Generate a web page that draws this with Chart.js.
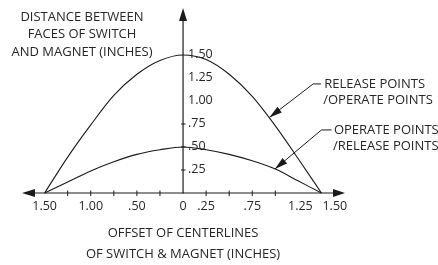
<!DOCTYPE html>
<html><head><meta charset="utf-8">
<script src="https://cdn.jsdelivr.net/npm/chart.js@4"></script>
<style>html,body{margin:0;padding:0;background:#fff;}canvas{display:block;}</style>
</head><body>
<canvas id="c" width="438" height="265"></canvas>
<script>
// ---- data ----
const offsets       = [-1.5, -1.25, -1, -0.75, -0.5, -0.25, 0, 0.25, 0.5, 0.75, 1, 1.25, 1.5];
const releaseCurve  = [0, 0.39, 0.74, 1.06, 1.29, 1.44, 1.50, 1.45, 1.29, 1.05, 0.73, 0.37, 0];
const operateCurve  = [0, 0.12, 0.24, 0.34, 0.42, 0.47, 0.50, 0.47, 0.42, 0.35, 0.26, 0.13, 0];

const xTickMarks  = [-1.25, -1, -0.75, -0.5, -0.25, 0.25, 0.5, 0.75, 1];
const xTickValues = [-1.5, -1, -0.5, 0, 0.25, 0.75, 1.25, 1.5];
const xTickLabels = ['1.50', '1.00', '.50', '0', '.25', '.75', '1.25', '1.50'];
const yTickMarks  = [0.25, 0.5, 0.75];
const yTickValues = [0.25, 0.5, 0.75, 1, 1.25, 1.5];
const yTickLabels = ['.25', '.50', '.75', '1.00', '1.25', '1.50'];

const yTitle = ['DISTANCE BETWEEN', 'FACES OF SWITCH', 'AND MAGNET (INCHES)'];
const xTitle = ['OFFSET OF CENTERLINES', 'OF SWITCH & MAGNET (INCHES)'];
const releaseLabel = ['RELEASE POINTS', '/OPERATE POINTS'];
const operateLabel = ['OPERATE POINTS', '/RELEASE POINTS'];

const INK = '#1a1a1a';
const TXT = '#262626';
const FONT = '13px "Open Sans", "Noto Sans", sans-serif';
const TICKFONT = '12.5px "Open Sans", "Noto Sans", sans-serif';

function pts(ys) { return offsets.map((x, i) => ({x, y: ys[i]})); }

function arrowHead(ctx, tx, ty, fx, fy, len, hw) {
  const a = Math.atan2(ty - fy, tx - fx);
  ctx.beginPath();
  ctx.moveTo(tx, ty);
  ctx.lineTo(tx - len * Math.cos(a) + hw * Math.sin(a), ty - len * Math.sin(a) - hw * Math.cos(a));
  ctx.lineTo(tx - len * Math.cos(a) - hw * Math.sin(a), ty - len * Math.sin(a) + hw * Math.cos(a));
  ctx.closePath();
  ctx.fill();
}

const decor = {
  id: 'decor',
  beforeDatasetsDraw(chart) {
    const {ctx, scales: {x, y}, chartArea: ca} = chart;
    const x0 = x.getPixelForValue(0), y0 = y.getPixelForValue(0);
    ctx.save();
    ctx.strokeStyle = INK; ctx.fillStyle = INK; ctx.lineWidth = 1.2;
    // x axis
    ctx.beginPath(); ctx.moveTo(ca.left + 4, y0); ctx.lineTo(ca.right - 4, y0); ctx.stroke();
    arrowHead(ctx, ca.left, y0, ca.left + 10, y0, 13, 4);
    arrowHead(ctx, ca.right, y0, ca.right - 10, y0, 12, 4);
    // y axis
    ctx.beginPath(); ctx.moveTo(x0, y0 + 0.5); ctx.lineTo(x0, ca.top + 4); ctx.stroke();
    arrowHead(ctx, x0, ca.top, x0, ca.top + 10, 13, 4);
    // tick marks
    ctx.lineWidth = 1;
    xTickMarks.forEach(v => { const p = x.getPixelForValue(v); ctx.beginPath(); ctx.moveTo(p, y0 - 2.5); ctx.lineTo(p, y0 + 3); ctx.stroke(); });
    yTickMarks.forEach(v => { const p = y.getPixelForValue(v); ctx.beginPath(); ctx.moveTo(x0 - 2, p); ctx.lineTo(x0 + 2.5, p); ctx.stroke(); });
    // tick labels
    ctx.fillStyle = TXT; ctx.font = TICKFONT; ctx.textBaseline = 'middle';
    xTickValues.forEach((v, i) => {
      let p = x.getPixelForValue(v);
      if (i === xTickValues.length - 1) { ctx.textAlign = 'left'; p += 1; }
      else { ctx.textAlign = 'center'; if (i === xTickValues.length - 2) p += 2; }
      ctx.fillText(xTickLabels[i], p, y0 + 13);
    });
    ctx.textAlign = 'left';
    yTickValues.forEach((v, i) => ctx.fillText(yTickLabels[i], x0 + 5, y.getPixelForValue(v) - 0.5));
    // axis titles
    ctx.font = FONT; ctx.textAlign = 'center';
    yTitle.forEach((t, i) => ctx.fillText(t, 82, 17 + i * 17.5));
    xTitle.forEach((t, i) => ctx.fillText(t, x0, y0 + 40 + i * 21.5));
    ctx.restore();
  },
  afterDatasetsDraw(chart) {
    const {ctx, scales: {x, y}} = chart;
    const callouts = [
      {lines: releaseLabel, tip: [0.935, 0.82], elbow: [1.41, 1.185], end: 1.495, text: 1.53},
      {lines: operateLabel, tip: [0.995, 0.26], elbow: [1.50, 0.685], end: 1.61, text: 1.635},
    ];
    ctx.save();
    ctx.strokeStyle = INK; ctx.fillStyle = INK; ctx.lineWidth = 1;
    callouts.forEach(c => {
      const tx = x.getPixelForValue(c.tip[0]), ty = y.getPixelForValue(c.tip[1]);
      const ex = x.getPixelForValue(c.elbow[0]), ey = y.getPixelForValue(c.elbow[1]);
      const hx = x.getPixelForValue(c.end);
      ctx.beginPath(); ctx.moveTo(hx, ey); ctx.lineTo(ex, ey); ctx.lineTo(tx, ty); ctx.stroke();
      arrowHead(ctx, tx, ty, ex, ey, 13, 3.5);
      ctx.save();
      ctx.fillStyle = TXT; ctx.font = FONT; ctx.textAlign = 'left'; ctx.textBaseline = 'middle';
      const px = x.getPixelForValue(c.text);
      c.lines.forEach((t, i) => ctx.fillText(t, px - (i ? 1 : 0), ey + i * 16));
      ctx.restore();
    });
    ctx.restore();
  }
};

new Chart(document.getElementById('c'), {
  type: 'scatter',
  data: {
    datasets: [
      {label: 'Release/Operate', data: pts(releaseCurve)},
      {label: 'Operate/Release', data: pts(operateCurve)},
    ].map(d => Object.assign(d, {showLine: true, borderColor: INK, borderWidth: 1.1, pointRadius: 0,
      cubicInterpolationMode: 'monotone', fill: false, clip: false}))
  },
  options: {
    responsive: false, animation: false, events: [],
    layout: {padding: {left: 22, right: 93, top: 8, bottom: 72}},
    plugins: {legend: {display: false}, tooltip: {enabled: false}},
    scales: {
      x: {type: 'linear', min: -1.745, max: 1.755, display: false},
      y: {type: 'linear', min: 0, max: 2.01, display: false}
    }
  },
  plugins: [decor]
});
</script>
</body></html>
